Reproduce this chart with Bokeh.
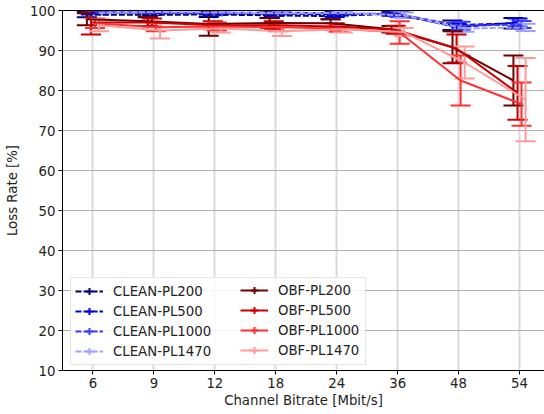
from bokeh.plotting import figure
from bokeh.models import (Range1d, FixedTicker, LinearAxis, Legend, LegendItem,
                          ColumnDataSource, Whisker, TeeHead)
from bokeh.embed import file_html
from bokeh.resources import INLINE
import numpy as np

categories = ["6", "9", "12", "18", "24", "36", "48", "54"]

series_names = ["CLEAN-PL200", "CLEAN-PL500", "CLEAN-PL1000", "CLEAN-PL1470",
                "OBF-PL200", "OBF-PL500", "OBF-PL1000", "OBF-PL1470"]

clean_pl200 = [99.0, 98.9, 99.0, 98.8, 98.6, 99.2, 96.3, 96.8]
clean_pl200_err = [0.7, 0.6, 0.6, 0.7, 0.8, 0.5, 1.2, 1.3]
clean_pl500 = [99.5, 99.4, 99.3, 99.2, 99.0, 99.3, 95.8, 97.0]
clean_pl500_err = [0.5, 0.5, 0.5, 0.6, 0.6, 0.5, 1.0, 1.0]
clean_pl1000 = [99.6, 99.5, 99.4, 99.5, 99.3, 99.0, 96.2, 96.5]
clean_pl1000_err = [0.4, 0.4, 0.5, 0.4, 0.5, 0.6, 1.0, 0.9]
clean_pl1470 = [99.4, 99.6, 99.5, 99.3, 99.4, 98.8, 95.5, 95.8]
clean_pl1470_err = [0.5, 0.4, 0.4, 0.5, 0.4, 0.7, 0.8, 0.9]

obf_pl200 = [97.8, 97.3, 96.6, 96.9, 96.8, 95.3, 90.8, 82.5]
obf_pl200_err = [1.5, 1.2, 2.9, 1.2, 1.0, 0.8, 4.0, 6.25]
obf_pl500 = [97.0, 97.0, 96.3, 96.3, 96.0, 95.2, 90.5, 79.4]
obf_pl500_err = [3.0, 1.0, 1.0, 1.0, 0.8, 1.0, 3.5, 6.7]
obf_pl1000 = [96.8, 95.8, 96.0, 95.8, 95.5, 94.5, 82.5, 76.6]
obf_pl1000_err = [1.2, 1.0, 1.0, 1.0, 0.8, 2.8, 6.25, 5.4]
obf_pl1470 = [96.3, 95.0, 95.5, 94.8, 95.3, 94.6, 87.0, 77.7]
obf_pl1470_err = [1.5, 2.0, 1.0, 1.2, 0.8, 1.0, 4.0, 10.4]

means = [clean_pl200, clean_pl500, clean_pl1000, clean_pl1470,
         obf_pl200, obf_pl500, obf_pl1000, obf_pl1470]
errs = [clean_pl200_err, clean_pl500_err, clean_pl1000_err, clean_pl1470_err,
        obf_pl200_err, obf_pl500_err, obf_pl1000_err, obf_pl1470_err]
colors = ["#00007a", "#0000dd", "#3a3aff", "#a0a0ff",
          "#6e0000", "#cc0000", "#ff3030", "#ff9a9a"]
dashed = [True, True, True, True, False, False, False, False]
offsets = [-0.1, -0.033, 0.033, 0.1, -0.1, -0.033, 0.033, 0.1]

p = figure(width=544, height=414, output_backend="svg", toolbar_location=None,
           x_range=Range1d(-0.5, 7.41), y_range=Range1d(10, 100),
           min_border_left=62, min_border_right=0, min_border_top=10,
           min_border_bottom=44)
p.outline_line_color = None
p.background_fill_color = "white"
p.border_fill_color = "white"

FONT = "DejaVu Sans"

p.xaxis.ticker = FixedTicker(ticks=list(range(len(categories))))
p.xaxis.major_label_overrides = {i: c for i, c in enumerate(categories)}
p.yaxis.ticker = FixedTicker(ticks=list(range(10, 101, 10)))
for ax in [p.xaxis[0], p.yaxis[0]]:
    ax.axis_line_color = "black"
    ax.axis_line_width = 1
    ax.major_tick_in = 0
    ax.major_tick_out = 4
    ax.major_tick_line_color = "black"
    ax.minor_tick_line_color = None
    ax.major_label_text_font = FONT
    ax.major_label_text_font_size = "13.3px"
    ax.major_label_text_color = "#222222"
    ax.axis_label_text_font = FONT
    ax.axis_label_text_font_size = "13.3px"
    ax.axis_label_text_font_style = "normal"
    ax.axis_label_text_color = "#222222"
p.xaxis.axis_label = "Channel Bitrate [Mbit/s]"
p.yaxis.axis_label = "Loss Rate [%]"
p.xaxis.axis_label_standoff = 2
p.yaxis.axis_label_standoff = 7
p.xaxis.major_label_standoff = 3
p.yaxis.major_label_standoff = 3

top = LinearAxis(ticker=FixedTicker(ticks=[]), major_label_text_font_size="0px",
                 axis_line_color="black", major_tick_line_color=None,
                 minor_tick_line_color=None)
p.add_layout(top, "above")

p.xgrid.grid_line_color = "#dadada"
p.xgrid.grid_line_width = 2
p.ygrid.grid_line_color = "#b0b0b0"
p.ygrid.grid_line_width = 1

idx = np.arange(len(categories))
items = []
for name, m, e, c, d, off in zip(series_names, means, errs, colors, dashed, offsets):
    m = np.array(m)
    e = np.array(e)
    src = ColumnDataSource(dict(x=idx + off, y=m, lo=m - e, hi=m + e))
    dash = "6 2" if d else "solid"
    ln = p.line("x", "y", source=src, line_color=c, line_width=2, line_dash=dash)
    w = Whisker(base="x", lower="lo", upper="hi", source=src, dimension="height",
                line_color=c, line_width=2,
                upper_head=TeeHead(size=20, line_color=c, line_width=2),
                lower_head=TeeHead(size=20, line_color=c, line_width=2))
    p.add_layout(w)
    dummy = p.scatter(x=[-100], y=[-100], marker="cross", size=16, line_color=c,
                      line_width=2)
    items.append(LegendItem(label=name, renderers=[ln, dummy]))

common = dict(label_text_font=FONT, label_text_font_size="13.3px",
              label_text_color="#222222", glyph_width=28, glyph_height=18,
              spacing=2, label_standoff=10, padding=4, margin=0)

legend_a = Legend(items=items[:4], location=(8, 5), label_width=248,
                  border_line_color="#cccccc", border_line_width=1,
                  background_fill_color="white", background_fill_alpha=0.85,
                  **common)
legend_b = Legend(items=items[4:], location=(178, 11), label_width=20,
                  border_line_color=None, background_fill_alpha=0.0, **common)
p.add_layout(legend_a, "center")
p.add_layout(legend_b, "center")

open("out.html", "w").write(file_html(p, INLINE))
